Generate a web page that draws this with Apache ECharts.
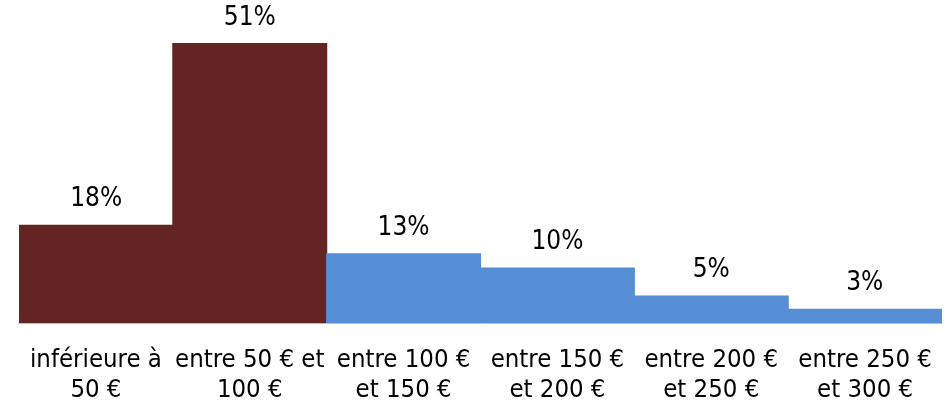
<!DOCTYPE html>
<html>
<head>
<meta charset="utf-8">
<script src="https://cdn.jsdelivr.net/npm/echarts@6/dist/echarts.min.js"></script>
<style>html,body{margin:0;padding:0;background:#fff}#c{width:950px;height:405px}</style>
</head>
<body>
<div id="c"></div>
<script>
const categories = ['inférieure à\n50 €', 'entre 50 € et\n100 €', 'entre 100 €\net 150 €', 'entre 150 €\net 200 €', 'entre 200 €\net 250 €', 'entre 250 €\net 300 €'];
const values = [17.9, 51, 12.7, 10.1, 5.0, 2.6];
const valueLabels = ['18%', '51%', '13%', '10%', '5%', '3%'];

const FONT = '"DejaVu Sans Condensed", "DejaVu Sans", sans-serif';
const colorOf = i => i < 2 ? '#632423' : '#558ED5';
const seriesData = values.map((v, i) => ({
  value: v,
  itemStyle: {color: colorOf(i)}
}));
const chart = echarts.init(document.getElementById('c'), null, {renderer: 'canvas'});
chart.setOption({
  animation: false,
  grid: {left: 19, right: 8, top: 43, bottom: 82, containLabel: false},
  xAxis: {
    type: 'category',
    data: categories,
    axisLine: {show: true, lineStyle: {color: '#bfbfbf', width: 1}},
    axisTick: {show: false},
    axisLabel: {interval: 0, color: '#000', fontFamily: FONT, fontSize: 25.5, lineHeight: 30, margin: 22}
  },
  yAxis: {
    type: 'value', min: 0, max: 51,
    show: false,
    splitLine: {show: false}
  },
  series: [{
    type: 'bar',
    data: seriesData,
    barCategoryGap: 0,
    barWidth: 155,
    label: {
      show: true, position: 'top', distance: 12,
      color: '#000', fontFamily: FONT, fontSize: 26,
      formatter: p => valueLabels[p.dataIndex]
    }
  }]
});
</script>
</body>
</html>
